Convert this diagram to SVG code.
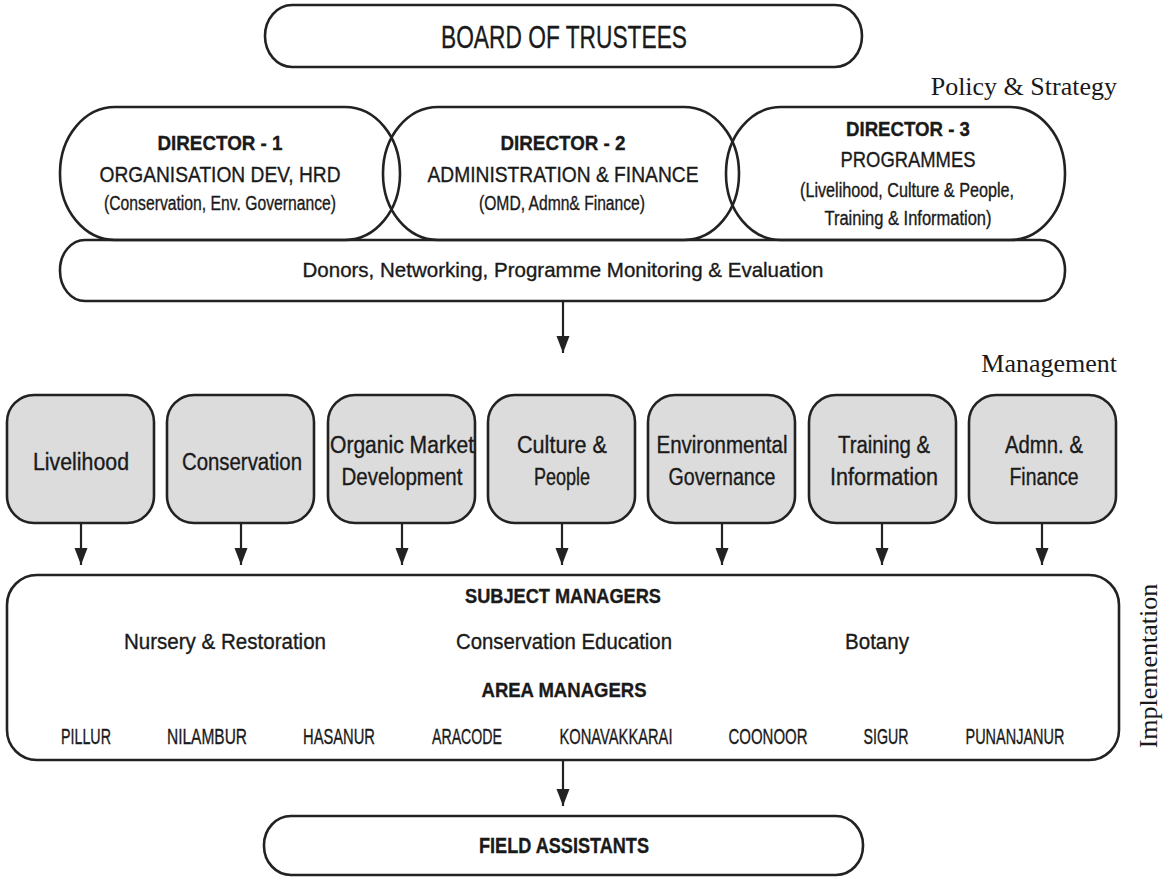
<svg xmlns="http://www.w3.org/2000/svg" width="1174" height="878" viewBox="0 0 1174 878">
<defs>
<style>
.s{font-family:'Liberation Sans Narrow','Liberation Sans',Arial,sans-serif;fill:#1a1a1a;stroke:#1a1a1a;stroke-width:0.35;text-anchor:middle}
.b{font-weight:bold}
.r{font-family:'Liberation Serif','Times New Roman',serif;fill:#1a1a1a;font-size:26px}
.o{fill:none;stroke:#222;stroke-width:2.6}
.w{fill:#fff;stroke:#222;stroke-width:2.6}
.g{fill:#dcdcdc;stroke:#222;stroke-width:2.6}
.c{stroke:#222;stroke-width:2.2;fill:none;marker-end:url(#ah)}
</style>
<marker id="ah" markerUnits="userSpaceOnUse" markerWidth="18" markerHeight="14" refX="17" refY="6.5" orient="auto">
<path d="M0,0 L17,6.5 L0,13 z" fill="#222"/>
</marker>
</defs>
<rect width="1174" height="878" fill="#fff"/>

<g id="board">
<rect class="w" x="265" y="5" width="597" height="62" rx="27" ry="31"/>
<text class="s" x="564" y="48" font-size="31" textLength="246" lengthAdjust="spacingAndGlyphs">BOARD OF TRUSTEES</text>
</g>

<text class="r" x="1117" y="95" text-anchor="end">Policy &amp; Strategy</text>

<g id="donors">
<rect class="w" x="60" y="240" width="1005" height="61" rx="25" ry="30"/>
<text class="s" x="563" y="277" font-size="21" textLength="521" lengthAdjust="spacingAndGlyphs">Donors, Networking, Programme Monitoring &amp; Evaluation</text>
</g>

<g id="director1">
<rect class="o" x="60" y="107" width="340" height="133" rx="55" ry="66"/>
<text class="s b" x="220" y="150" font-size="21" textLength="125" lengthAdjust="spacingAndGlyphs">DIRECTOR - 1</text>
<text class="s" x="220" y="182" font-size="22" textLength="241" lengthAdjust="spacingAndGlyphs">ORGANISATION DEV, HRD</text>
<text class="s" x="220" y="210" font-size="20" textLength="232" lengthAdjust="spacingAndGlyphs">(Conservation, Env. Governance)</text>
</g>
<g id="director2">
<rect class="o" x="383" y="107" width="356" height="133" rx="55" ry="66"/>
<text class="s b" x="563" y="150" font-size="21" textLength="125" lengthAdjust="spacingAndGlyphs">DIRECTOR - 2</text>
<text class="s" x="563" y="182" font-size="22" textLength="271" lengthAdjust="spacingAndGlyphs">ADMINISTRATION &amp; FINANCE</text>
<text class="s" x="562" y="210" font-size="20" textLength="166" lengthAdjust="spacingAndGlyphs">(OMD, Admn&amp; Finance)</text>
</g>
<g id="director3">
<rect class="o" x="726" y="107" width="339" height="133" rx="55" ry="66"/>
<text class="s b" x="908" y="136" font-size="21" textLength="124" lengthAdjust="spacingAndGlyphs">DIRECTOR - 3</text>
<text class="s" x="908" y="167" font-size="22" textLength="135" lengthAdjust="spacingAndGlyphs">PROGRAMMES</text>
<text class="s" x="907" y="197" font-size="20" textLength="214" lengthAdjust="spacingAndGlyphs">(Livelihood, Culture &amp; People,</text>
<text class="s" x="908" y="225" font-size="20" textLength="167" lengthAdjust="spacingAndGlyphs">Training &amp; Information)</text>
</g>

<text class="r" x="1117" y="372" text-anchor="end">Management</text>

<g id="livelihood">
<rect class="g" x="7" y="395" width="147" height="128" rx="27"/>
<text class="s" x="81" y="470" font-size="23" textLength="96" lengthAdjust="spacingAndGlyphs">Livelihood</text>
</g>
<g id="conservation">
<rect class="g" x="167" y="395" width="147" height="128" rx="27"/>
<text class="s" x="242" y="470" font-size="23" textLength="120" lengthAdjust="spacingAndGlyphs">Conservation</text>
</g>
<g id="organic">
<rect class="g" x="328" y="395" width="147" height="128" rx="27"/>
<text class="s" x="402" y="453" font-size="23" textLength="144" lengthAdjust="spacingAndGlyphs">Organic Market</text>
<text class="s" x="402" y="485" font-size="23" textLength="121" lengthAdjust="spacingAndGlyphs">Development</text>
</g>
<g id="culture">
<rect class="g" x="488" y="395" width="147" height="128" rx="27"/>
<text class="s" x="562" y="453" font-size="23" textLength="90" lengthAdjust="spacingAndGlyphs">Culture &amp;</text>
<text class="s" x="562" y="485" font-size="23" textLength="56" lengthAdjust="spacingAndGlyphs">People</text>
</g>
<g id="environmental">
<rect class="g" x="648" y="395" width="147" height="128" rx="27"/>
<text class="s" x="722" y="453" font-size="23" textLength="131" lengthAdjust="spacingAndGlyphs">Environmental</text>
<text class="s" x="722" y="485" font-size="23" textLength="107" lengthAdjust="spacingAndGlyphs">Governance</text>
</g>
<g id="training">
<rect class="g" x="809" y="395" width="147" height="128" rx="27"/>
<text class="s" x="884" y="453" font-size="23" textLength="92" lengthAdjust="spacingAndGlyphs">Training &amp;</text>
<text class="s" x="884" y="485" font-size="23" textLength="108" lengthAdjust="spacingAndGlyphs">Information</text>
</g>
<g id="admn">
<rect class="g" x="969" y="395" width="147" height="128" rx="27"/>
<text class="s" x="1044" y="453" font-size="23" textLength="78" lengthAdjust="spacingAndGlyphs">Admn. &amp;</text>
<text class="s" x="1044" y="485" font-size="23" textLength="69" lengthAdjust="spacingAndGlyphs">Finance</text>
</g>

<g id="managers">
<rect class="w" x="7" y="575" width="1112" height="185" rx="30"/>
<text class="s b" x="563" y="603" font-size="21" textLength="196" lengthAdjust="spacingAndGlyphs">SUBJECT MANAGERS</text>
<text class="s" x="225" y="649" font-size="22" textLength="202" lengthAdjust="spacingAndGlyphs">Nursery &amp; Restoration</text>
<text class="s" x="564" y="649" font-size="22" textLength="216" lengthAdjust="spacingAndGlyphs">Conservation Education</text>
<text class="s" x="877" y="649" font-size="22" textLength="64" lengthAdjust="spacingAndGlyphs">Botany</text>
<text class="s b" x="564" y="697" font-size="21" textLength="165" lengthAdjust="spacingAndGlyphs">AREA MANAGERS</text>
<text class="s" x="86" y="744" font-size="22" textLength="50" lengthAdjust="spacingAndGlyphs">PILLUR</text>
<text class="s" x="207" y="744" font-size="22" textLength="80" lengthAdjust="spacingAndGlyphs">NILAMBUR</text>
<text class="s" x="339" y="744" font-size="22" textLength="72" lengthAdjust="spacingAndGlyphs">HASANUR</text>
<text class="s" x="467" y="744" font-size="22" textLength="70" lengthAdjust="spacingAndGlyphs">ARACODE</text>
<text class="s" x="616" y="744" font-size="22" textLength="113" lengthAdjust="spacingAndGlyphs">KONAVAKKARAI</text>
<text class="s" x="768" y="744" font-size="22" textLength="79" lengthAdjust="spacingAndGlyphs">COONOOR</text>
<text class="s" x="886" y="744" font-size="22" textLength="45" lengthAdjust="spacingAndGlyphs">SIGUR</text>
<text class="s" x="1015" y="744" font-size="22" textLength="99" lengthAdjust="spacingAndGlyphs">PUNANJANUR</text>
</g>

<text class="r" transform="translate(1157,666) rotate(-90)" text-anchor="middle">Implementation</text>

<g id="field">
<rect class="w" x="264" y="816" width="599" height="59" rx="27" ry="29"/>
<text class="s b" x="564" y="853" font-size="22" textLength="170" lengthAdjust="spacingAndGlyphs">FIELD ASSISTANTS</text>
</g>

<g id="connectors">
<line class="c" x1="563" y1="301" x2="563" y2="353"/>
<line class="c" x1="81" y1="523" x2="81" y2="565"/>
<line class="c" x1="241" y1="523" x2="241" y2="565"/>
<line class="c" x1="402" y1="523" x2="402" y2="565"/>
<line class="c" x1="562" y1="523" x2="562" y2="565"/>
<line class="c" x1="722" y1="523" x2="722" y2="565"/>
<line class="c" x1="882" y1="523" x2="882" y2="565"/>
<line class="c" x1="1042" y1="523" x2="1042" y2="565"/>
<line class="c" x1="563" y1="760" x2="563" y2="806"/>
</g>
</svg>
